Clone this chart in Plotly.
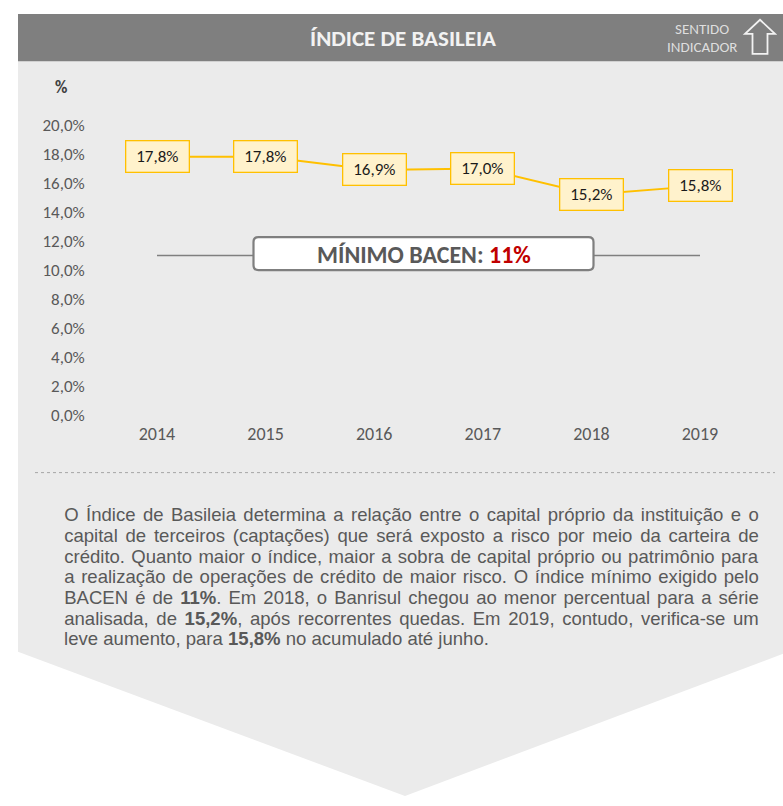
import plotly.graph_objects as go

# ---- data -------------------------------------------------------------
YEARS = ["2014", "2015", "2016", "2017", "2018", "2019"]
BASILEIA = [17.8, 17.8, 16.9, 17.0, 15.2, 15.8]
MINIMO_BACEN = 11.0
Y_TICKS = [0, 2, 4, 6, 8, 10, 12, 14, 16, 18, 20]
Y_TICK_TEXT = ["0,0%", "2,0%", "4,0%", "6,0%", "8,0%", "10,0%",
               "12,0%", "14,0%", "16,0%", "18,0%", "20,0%"]

TITLE = "ÍNDICE DE BASILEIA"
PARAGRAPH = [
    "O Índice de Basileia determina a relação entre o capital próprio da instituição e o",
    "capital de terceiros (captações) que será exposto a risco por meio da carteira de",
    "crédito. Quanto maior o índice, maior a sobra de capital próprio ou patrimônio para",
    "a realização de operações de crédito de maior risco. O índice mínimo exigido pelo",
    "BACEN é de <b>11%</b>. Em 2018, o Banrisul chegou ao menor percentual para a série",
    "analisada, de <b>15,2%</b>, após recorrentes quedas. Em 2019, contudo, verifica-se um",
    "leve aumento, para <b>15,8%</b> no acumulado até junho.",
]

# ---- page geometry (pixels) -------------------------------------------
W, H = 783, 806
PLOT_L, PLOT_R = 102.7, 754.3
PLOT_T, PLOT_B = 118.0, 416.0
Y_MAX = 20.0

CALIBRI = "Carlito, Lato, sans-serif"
NARROW = "Liberation Sans Narrow, Arial Narrow, Liberation Sans, Arial, sans-serif"
TEXT_GRAY = "#595959"
GOLD = "#ffc000"


def fx(x):
    return x / W


def fy(y):
    return 1 - y / H


def vpx(v):
    """pixel row of a value on the y axis"""
    return PLOT_B - (PLOT_B - PLOT_T) * v / Y_MAX


def path(points, close=True):
    s = "M " + " L ".join(f"{fx(x):.5f},{fy(y):.5f}" for x, y in points)
    return s + (" Z" if close else "")


def fmt(v):
    return f"{v:.1f}%".replace(".", ",")


fig = go.Figure()

# series line
fig.add_trace(go.Scatter(
    x=YEARS, y=BASILEIA, mode="lines",
    line=dict(color=GOLD, width=2), hoverinfo="skip", showlegend=False,
))
# regulatory minimum
fig.add_trace(go.Scatter(
    x=YEARS, y=[MINIMO_BACEN] * len(YEARS), mode="lines",
    line=dict(color="#7f7f7f", width=1.5), hoverinfo="skip", showlegend=False,
))

shapes = []
# light panel with chevron bottom
shapes.append(dict(type="path", xref="paper", yref="paper", layer="below",
                   path=path([(18, 52), (W, 52), (W, 661), (405, 807), (18, 659)]),
                   fillcolor="#ebebeb", line=dict(width=0)))
# header bar
shapes.append(dict(type="rect", xref="paper", yref="paper", layer="below",
                   x0=fx(18), x1=1, y0=fy(52.5), y1=fy(4),
                   fillcolor="#7f7f7f", line=dict(width=0)))
# "sentido" arrow outline
shapes.append(dict(type="path", xref="paper", yref="paper", layer="above",
                   path=path([(760, 10), (775, 24.5), (767.5, 24.5), (767.5, 45),
                              (752.5, 45), (752.5, 24.5), (745, 24.5)]),
                   fillcolor="rgba(0,0,0,0)", line=dict(color="#f2f2f2", width=1.8)))
# dotted separator
shapes.append(dict(type="line", xref="paper", yref="paper", layer="below",
                   x0=fx(35), x1=fx(775), y0=fy(475), y1=fy(475),
                   line=dict(color="#a6a6a6", width=1, dash="dot")))

# rounded label box on the minimum line
cy = vpx(MINIMO_BACEN) - 2
bx0, bx1, by0, by1, r = 253.5, 593.5, cy - 17, cy + 17, 5
rp = (f"M {fx(bx0 + r)},{fy(by0)} L {fx(bx1 - r)},{fy(by0)} "
      f"Q {fx(bx1)},{fy(by0)} {fx(bx1)},{fy(by0 + r)} L {fx(bx1)},{fy(by1 - r)} "
      f"Q {fx(bx1)},{fy(by1)} {fx(bx1 - r)},{fy(by1)} L {fx(bx0 + r)},{fy(by1)} "
      f"Q {fx(bx0)},{fy(by1)} {fx(bx0)},{fy(by1 - r)} L {fx(bx0)},{fy(by0 + r)} "
      f"Q {fx(bx0)},{fy(by0)} {fx(bx0 + r)},{fy(by0)} Z")
shapes.append(dict(type="path", xref="paper", yref="paper", layer="above", path=rp,
                   fillcolor="white", line=dict(color="#7f7f7f", width=2.2)))

annotations = []
# value labels (category axes place annotations by category index)
for i, v in enumerate(BASILEIA):
    annotations.append(dict(
        x=i, y=v, xref="x", yref="y", text=fmt(v), showarrow=False,
        font=dict(family=CALIBRI, size=17, color="#1a1a1a"),
        bgcolor="#fff2cc", bordercolor=GOLD, borderwidth=1.3, borderpad=0,
        width=62, height=30, xanchor="center", yanchor="middle",
    ))

minimo_txt = f"{MINIMO_BACEN:.0f}%"
annotations.append(dict(
    x=fx((bx0 + bx1) / 2), y=fy(cy + 0.5), xref="paper", yref="paper", showarrow=False,
    text=f"<b>MÍNIMO BACEN: <span style='color:#c00000'>{minimo_txt}</span></b>",
    font=dict(family=CALIBRI, size=24, color=TEXT_GRAY),
    xanchor="center", yanchor="middle",
))

# header texts
annotations.append(dict(
    x=fx(403), y=fy(29), xref="paper", yref="paper", showarrow=False,
    text=f"<b>{TITLE}</b>", font=dict(family=CALIBRI, size=23, color="#f2f2f2"),
    xanchor="center", yanchor="middle",
))
annotations.append(dict(
    x=fx(702), y=fy(20), xref="paper", yref="paper", showarrow=False,
    text="SENTIDO", font=dict(family=CALIBRI, size=15, color="#dedede"),
    xanchor="center", yanchor="middle",
))
annotations.append(dict(
    x=fx(702), y=fy(38.5), xref="paper", yref="paper", showarrow=False,
    text="INDICADOR", font=dict(family=CALIBRI, size=15, color="#dedede"),
    xanchor="center", yanchor="middle",
))
# unit label
annotations.append(dict(
    x=fx(61), y=fy(80), xref="paper", yref="paper", showarrow=False,
    text="<b>%</b>", font=dict(family=CALIBRI, size=17, color="#404040"),
    xanchor="center", yanchor="middle",
))

# paragraph lines
para_start = len(annotations)
for i, line in enumerate(PARAGRAPH):
    annotations.append(dict(
        x=fx(62), y=fy(518.5 + i * 21.2), xref="paper", yref="paper", showarrow=False,
        text=line, font=dict(family=NARROW, size=18.5, color=TEXT_GRAY),
        xanchor="left", yanchor="middle",
    ))
para_idx = list(range(para_start, para_start + len(PARAGRAPH)))

fig.update_layout(
    width=W, height=H,
    margin=dict(l=0, r=0, t=0, b=0),
    paper_bgcolor="white", plot_bgcolor="rgba(0,0,0,0)",
    shapes=shapes, annotations=annotations,
    xaxis=dict(
        type="category", range=[-0.5, len(YEARS) - 0.5],
        domain=[fx(PLOT_L), fx(PLOT_R)],
        showgrid=False, zeroline=False, showline=False, ticks="",
        tickfont=dict(family=CALIBRI, size=18, color=TEXT_GRAY),
        ticklabelstandoff=6, fixedrange=True,
    ),
    yaxis=dict(
        range=[0, Y_MAX], domain=[fy(PLOT_B), fy(PLOT_T)],
        tickvals=Y_TICKS, ticktext=Y_TICK_TEXT,
        showgrid=False, zeroline=False, showline=False, ticks="",
        tickfont=dict(family=CALIBRI, size=17, color=TEXT_GRAY),
        ticklabelstandoff=17, fixedrange=True,
    ),
    showlegend=False,
)

# condense the paragraph glyphs and justify every line but the last
js = """
var gd = document.getElementById('{plot_id}');
var idx = %s, target = 695, lastW = 425;
var last = idx[idx.length - 1];
function txt(i) {
  return gd.querySelector('g.annotation[data-index="' + i + '"] text.annotation-text');
}
var tl = txt(last);
var s = tl ? lastW / tl.getBBox().width : 1;
idx.forEach(function (i) {
  var t = txt(i);
  if (!t) return;
  var b0 = t.getBBox(), x0 = b0.x;
  if (i !== last) {
    var n = (t.textContent.match(/ /g) || []).length;
    if (n) t.style.wordSpacing = ((target / s - b0.width) / n) + 'px';
    var b1 = t.getBBox();
    t.setAttribute('x', parseFloat(t.getAttribute('x') || 0) + (x0 - b1.x));
  }
  t.setAttribute('transform',
    'translate(' + x0 + ' 0) scale(' + s + ' 1) translate(' + (-x0) + ' 0)');
});
""" % str(para_idx)

fig.write_html("out.html", post_script=js, config=dict(displayModeBar=False))
